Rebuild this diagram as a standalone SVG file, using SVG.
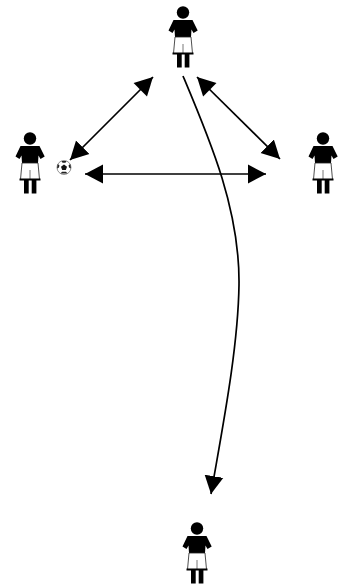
<svg xmlns="http://www.w3.org/2000/svg" width="345" height="586" viewBox="0 0 345 586">
<style>
.line{fill:none;stroke:#000;stroke-width:1.7}
</style>
<defs>
<marker id="end" markerUnits="userSpaceOnUse" markerWidth="22" markerHeight="22" refX="18" refY="11" orient="auto"><path d="M0 1.5 L18 11 L0 20.5Z" fill="#000"/></marker>
<marker id="start" markerUnits="userSpaceOnUse" markerWidth="22" markerHeight="22" refX="1" refY="11" orient="auto"><path d="M19 1.5 L1 11 L19 20.5Z" fill="#000"/></marker>
<symbol id="player" overflow="visible">
<circle cx="0" cy="12.5" r="6.2" fill="#000"/>
<path d="M-9.5 20 L9.5 20 L14.7 30.5 L10.5 33 L8.5 29.5 L8 37 L-8 37 L-8.5 29.5 L-10.5 33 L-14.5 30.5Z" fill="#000"/>
<path d="M-8 37 L8 37 L9.5 53.5 L-9.5 53.5Z" fill="#fff" stroke="#222" stroke-width="0.8"/>
<path d="M0 44 L0 53.5" stroke="#555" stroke-width="0.8"/>
<rect x="-10.5" y="52.5" width="21" height="2" fill="#000"/>
<rect x="-6" y="54" width="4.7" height="13.5" fill="#000"/>
<rect x="1.7" y="54" width="4.7" height="13.5" fill="#000"/>
</symbol>
</defs>
<g id="player-top"><use href="#player" x="183" y="0"/></g>
<g id="player-left"><use href="#player" x="30" y="126"/></g>
<g id="player-right"><use href="#player" x="323" y="126"/></g>
<g id="player-bottom"><use href="#player" x="197" y="516"/></g>
<g id="ball">
<circle cx="64" cy="167.5" r="7" fill="#fff" stroke="#777" stroke-width="0.8"/>
<path d="M64 164.5 L67 166.7 L65.8 170 L62.2 170 L61 166.7Z" fill="#111"/>
<path d="M61.5 161 L66.5 161 L65.5 162.8 L62.5 162.8Z M70.3 164 L71 168.5 L69 167.5 L68.6 165.3Z M57.7 164 L57 168.5 L59 167.5 L59.4 165.3Z M60.5 173.5 L67.5 173.5 L66 171.7 L62 171.7Z" fill="#222"/>
</g>
<g id="connectors">
<path class="line" d="M153 77 L70 160" marker-start="url(#start)" marker-end="url(#end)"/>
<path class="line" d="M197 77 L280 159" marker-start="url(#start)" marker-end="url(#end)"/>
<path class="line" d="M85 174 L266 174" marker-start="url(#start)" marker-end="url(#end)"/>
<path class="line" d="M183 76 C210 140 240 210 239 285 C238 350 222 430 211 494" marker-end="url(#end)"/>
</g>
</svg>
